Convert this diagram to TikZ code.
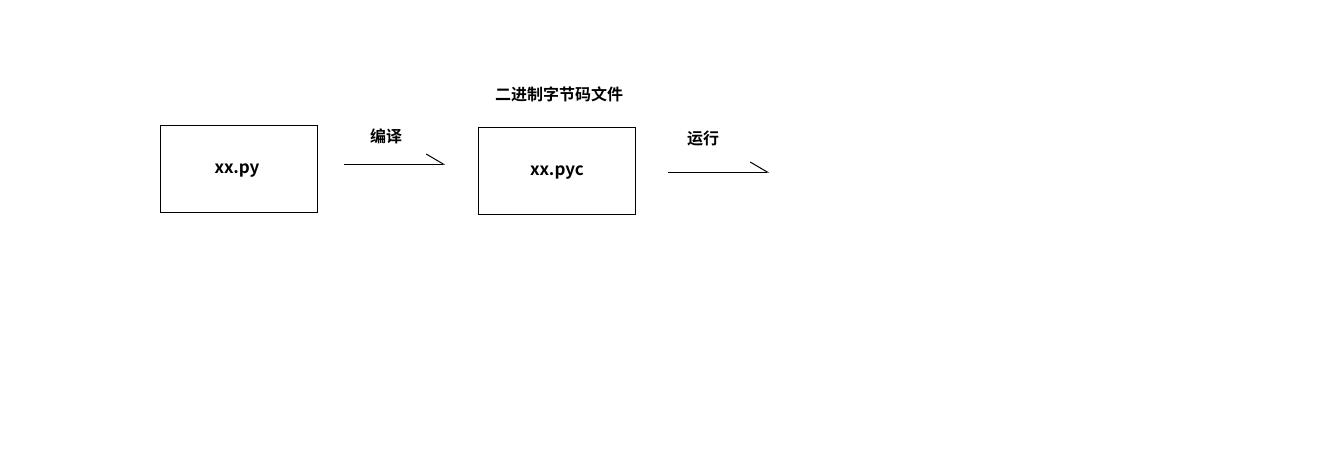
\documentclass[tikz,border=0pt]{standalone}
\usepackage{fontspec}
\newfontfamily\cjk{Noto Sans CJK SC Bold}
\usetikzlibrary{arrows.meta}
\begin{document}
\begin{tikzpicture}[x=1pt,y=-1pt,
  box/.style={draw,line width=1pt,minimum width=157pt,minimum height=87pt,inner sep=0pt},
  txt/.style={inner sep=0pt,font=\cjk\fontsize{17}{19}\selectfont},
  lbl/.style={inner sep=0pt,font=\cjk\fontsize{16}{18}\selectfont},
  flow/.style={line width=1pt,-{Straight Barb[left,length=17pt,width=20pt,line width=1pt]}}]
\useasboundingbox[fill=white] (0,0) rectangle (1318,460);
\node[box] (py) at (238.5,168.5) {};
\node[box] (pyc) at (556.5,170.5) {};
\node[txt] (pyt) at (237,171) {xx.py};
\node[txt] (pyct) at (557,173) {xx.pyc};
\node[lbl] (title) at (559,94) {二进制字节码文件};
\node[lbl] (compile) at (386,136) {编译};
\node[lbl] (run) at (703,139) {运行};
\coordinate (a1s) at (344,164);
\coordinate (a1e) at (445,164);
\coordinate (a2s) at (668,172);
\coordinate (a2e) at (769,172);
\draw[flow] (a1s) -- (a1e);
\draw[flow] (a2s) -- (a2e);
\end{tikzpicture}
\end{document}
